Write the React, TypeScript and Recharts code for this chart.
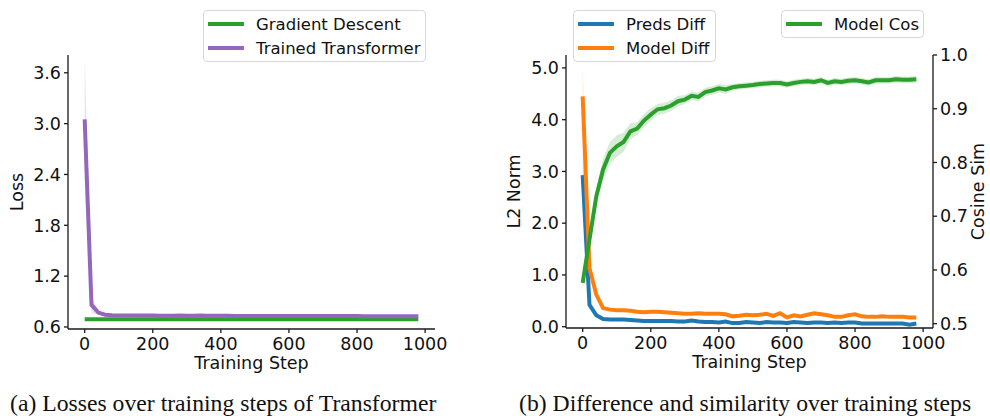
import React from 'react';
import { ComposedChart, Line, Area, XAxis, YAxis } from 'recharts';

// training steps (every 20)
const steps = [
  0, 20, 40, 60, 80, 100, 120, 140, 160, 180, 200, 220, 240, 260, 280, 300, 320, 340, 360, 380,
  400, 420, 440, 460, 480, 500, 520, 540, 560, 580, 600, 620, 640, 660, 680, 700, 720, 740, 760, 780,
  800, 820, 840, 860, 880, 900, 920, 940, 960, 980,
];

// (a) losses
const gdLoss = [
  0.69, 0.69, 0.69, 0.69, 0.69, 0.69, 0.69, 0.69, 0.69, 0.69, 0.69, 0.69, 0.69, 0.69, 0.69, 0.69, 0.69, 0.69, 0.69, 0.69,
  0.69, 0.69, 0.69, 0.69, 0.69, 0.69, 0.69, 0.69, 0.69, 0.69, 0.69, 0.69, 0.69, 0.69, 0.69, 0.69, 0.69, 0.69, 0.69, 0.69,
  0.69, 0.69, 0.69, 0.69, 0.69, 0.69, 0.69, 0.69, 0.69, 0.69,
];
const ttLoss = [
  3.05, 0.86, 0.77, 0.745, 0.738, 0.736, 0.735, 0.735, 0.734, 0.734, 0.734, 0.733, 0.733, 0.733, 0.734, 0.733, 0.733, 0.734, 0.732, 0.732,
  0.731, 0.731, 0.730, 0.730, 0.730, 0.730, 0.729, 0.730, 0.729, 0.729, 0.729, 0.729, 0.729, 0.728, 0.729, 0.728, 0.728, 0.728, 0.728, 0.728,
  0.728, 0.727, 0.727, 0.727, 0.727, 0.727, 0.727, 0.726, 0.726, 0.726,
];
const ttSpread = [
  0.75, 0.1, 0.02, 0.01, 0.01, 0.01, 0.01, 0.01, 0.01, 0.01, 0.01, 0.01, 0.01, 0.01, 0.01, 0.01, 0.01, 0.01, 0.01, 0.01,
  0.01, 0.01, 0.01, 0.01, 0.01, 0.01, 0.01, 0.01, 0.01, 0.01, 0.01, 0.01, 0.01, 0.01, 0.01, 0.01, 0.01, 0.01, 0.01, 0.01,
  0.01, 0.01, 0.01, 0.01, 0.01, 0.01, 0.01, 0.01, 0.01, 0.01,
];

// (b) differences (L2 norm) and cosine similarity
const predsDiff = [
  2.93, 0.42, 0.22, 0.15, 0.14, 0.14, 0.14, 0.13, 0.12, 0.11, 0.11, 0.11, 0.11, 0.11, 0.10, 0.10, 0.12, 0.10, 0.09, 0.09,
  0.08, 0.10, 0.07, 0.07, 0.09, 0.08, 0.07, 0.09, 0.08, 0.08, 0.07, 0.09, 0.08, 0.07, 0.08, 0.08, 0.07, 0.08, 0.07, 0.08,
  0.08, 0.06, 0.06, 0.06, 0.06, 0.06, 0.06, 0.06, 0.04, 0.06,
];
const predsSpread = [
  0.5, 0.05, 0.02, 0.01, 0.01, 0.01, 0.01, 0.01, 0.01, 0.01, 0.01, 0.01, 0.01, 0.01, 0.01, 0.01, 0.01, 0.01, 0.01, 0.01,
  0.01, 0.01, 0.01, 0.01, 0.01, 0.01, 0.01, 0.01, 0.01, 0.01, 0.01, 0.01, 0.01, 0.01, 0.01, 0.01, 0.01, 0.01, 0.01, 0.01,
  0.01, 0.01, 0.01, 0.01, 0.01, 0.01, 0.01, 0.01, 0.01, 0.01,
];
const modelDiff = [
  4.45, 1.13, 0.62, 0.36, 0.33, 0.32, 0.32, 0.31, 0.29, 0.28, 0.29, 0.29, 0.28, 0.27, 0.26, 0.25, 0.25, 0.26, 0.25, 0.25,
  0.25, 0.24, 0.20, 0.21, 0.23, 0.22, 0.23, 0.25, 0.21, 0.26, 0.18, 0.22, 0.20, 0.23, 0.26, 0.24, 0.22, 0.19, 0.19, 0.22,
  0.24, 0.20, 0.19, 0.19, 0.20, 0.19, 0.19, 0.19, 0.18, 0.18,
];
const modelSpread = [
  0.55, 0.1, 0.03, 0.02, 0.02, 0.02, 0.02, 0.02, 0.02, 0.02, 0.02, 0.02, 0.02, 0.02, 0.02, 0.02, 0.02, 0.02, 0.02, 0.02,
  0.02, 0.02, 0.02, 0.02, 0.02, 0.02, 0.02, 0.02, 0.02, 0.02, 0.02, 0.02, 0.02, 0.03, 0.04, 0.03, 0.02, 0.02, 0.02, 0.03,
  0.03, 0.02, 0.02, 0.02, 0.02, 0.02, 0.02, 0.02, 0.02, 0.02,
];
const modelCos = [
  0.576, 0.657, 0.737, 0.787, 0.818, 0.830, 0.838, 0.858, 0.863, 0.878, 0.889, 0.899, 0.901, 0.906, 0.914, 0.917, 0.924, 0.922, 0.931, 0.934,
  0.938, 0.936, 0.940, 0.942, 0.943, 0.944, 0.946, 0.947, 0.948, 0.948, 0.945, 0.948, 0.950, 0.951, 0.950, 0.953, 0.948, 0.951, 0.950, 0.952,
  0.953, 0.951, 0.949, 0.953, 0.953, 0.953, 0.955, 0.954, 0.954, 0.955,
];
const cosSpread = [
  0.012, 0.012, 0.015, 0.02, 0.02, 0.02, 0.018, 0.015, 0.012, 0.012, 0.012, 0.01, 0.01, 0.01, 0.01, 0.008, 0.008, 0.008, 0.008, 0.008,
  0.008, 0.008, 0.006, 0.006, 0.006, 0.006, 0.006, 0.006, 0.006, 0.006, 0.006, 0.006, 0.006, 0.006, 0.006, 0.006, 0.006, 0.006, 0.006, 0.006,
  0.006, 0.006, 0.006, 0.006, 0.006, 0.006, 0.006, 0.006, 0.006, 0.006,
];

const stepTicks = [0, 200, 400, 600, 800, 1000];
const lossTicks = [0.6, 1.2, 1.8, 2.4, 3.0, 3.6];
const normTicks = [0, 1, 2, 3, 4, 5];
const cosTicks = [0.5, 0.6, 0.7, 0.8, 0.9, 1.0];

const GREEN = '#2ca02c';
const PURPLE = '#9467bd';
const BLUE = '#1f77b4';
const ORANGE = '#ff7f0e';
const FONT = '"DejaVu Sans", sans-serif';
const AX = '#1a1a1a';

const lossData = steps.map((s, i) => ({
  step: s,
  gd: gdLoss[i],
  tt: ttLoss[i],
  ttBand: [ttLoss[i] - ttSpread[i], ttLoss[i] + ttSpread[i]],
}));

const diffData = steps.map((s, i) => ({
  step: s,
  preds: predsDiff[i],
  predsBand: [predsDiff[i] - predsSpread[i], predsDiff[i] + predsSpread[i]],
  model: modelDiff[i],
  modelBand: [modelDiff[i] - modelSpread[i], modelDiff[i] + modelSpread[i]],
  cos: modelCos[i],
  cosBand: [modelCos[i] - cosSpread[i], modelCos[i] + cosSpread[i]],
}));

const tick = { fontSize: 17.5, fill: '#111', fontFamily: FONT };
const axLine = { stroke: AX, strokeWidth: 1.3 };
const labelStyle = { fontSize: 17.5, fill: '#111', fontFamily: FONT, textAnchor: 'middle' as const };

function LegendBox({ left, top, width, items }: {
  left: number; top: number; width: number; items: { name: string; color: string }[];
}) {
  return (
    <div style={{
      position: 'absolute', left, top, width, height: items.length * 24 + 4,
      border: '1px solid #d8d8d8', borderRadius: 4, background: 'rgba(255,255,255,0.85)',
      boxSizing: 'border-box', fontFamily: FONT, fontSize: 16.5, color: '#111',
    }}>
      {items.map((it, i) => (
        <div key={it.name} style={{
          position: 'absolute', left: 4, top: 1 + i * 24, height: 24,
          display: 'flex', alignItems: 'center', whiteSpace: 'nowrap',
        }}>
          <span style={{ display: 'inline-block', width: 36, height: 4, background: it.color, marginRight: 12 }} />
          {it.name}
        </div>
      ))}
    </div>
  );
}

const captionStyle: React.CSSProperties = {
  position: 'absolute', top: 391.5, fontFamily: '"Liberation Serif", serif', fontSize: 23.7,
  lineHeight: 1, color: '#111', whiteSpace: 'nowrap',
};

export default function App() {
  return (
    <div style={{ position: 'absolute', left: 0, top: 0, width: 990, height: 416, background: '#fff' }}>
      <div style={{ position: 'absolute', left: 0, top: 0 }}>
        <ComposedChart width={450} height={416} data={lossData} margin={{ top: 55, right: 15, bottom: 47, left: 8 }}>
          <XAxis
            dataKey="step" type="number" domain={[-49, 1029]} ticks={stepTicks} allowDataOverflow
            tick={tick} axisLine={axLine} tickLine={axLine} tickSize={4} tickMargin={5} height={40}
            label={{ value: 'Training Step', position: 'insideBottom', offset: 0, style: labelStyle }}
          />
          <YAxis
            type="number" domain={[0.576, 3.81]} ticks={lossTicks} allowDataOverflow width={60}
            tickFormatter={(v: number) => v.toFixed(1)}
            tick={tick} axisLine={axLine} tickLine={axLine} tickSize={4} tickMargin={3}
            label={{ value: 'Loss', angle: -90, position: 'insideLeft', offset: 9, style: labelStyle }}
          />
          <Area dataKey="ttBand" stroke="none" fill={PURPLE} fillOpacity={0.2} isAnimationActive={false} />
          <Line dataKey="gd" stroke={GREEN} strokeWidth={4} dot={false} isAnimationActive={false} />
          <Line dataKey="tt" stroke={PURPLE} strokeWidth={4} dot={false} isAnimationActive={false} />
        </ComposedChart>
      </div>

      <div style={{ position: 'absolute', left: 490, top: 0 }}>
        <ComposedChart width={500} height={416} data={diffData} margin={{ top: 55, right: 7, bottom: 48, left: 16 }}>
          <XAxis
            dataKey="step" type="number" domain={[-49, 1029]} ticks={stepTicks} allowDataOverflow
            tick={tick} axisLine={axLine} tickLine={axLine} tickSize={4} tickMargin={5} height={40}
            label={{ value: 'Training Step', position: 'insideBottom', offset: 0, style: labelStyle }}
          />
          <YAxis
            yAxisId="left" type="number" domain={[-0.025, 5.25]} ticks={normTicks} allowDataOverflow width={60}
            tickFormatter={(v: number) => v.toFixed(1)}
            tick={tick} axisLine={axLine} tickLine={axLine} tickSize={4} tickMargin={3}
            label={{ value: 'L2 Norm', angle: -90, position: 'insideLeft', offset: 8, style: labelStyle }}
          />
          <YAxis
            yAxisId="right" orientation="right" type="number" domain={[0.492, 1.0]} ticks={cosTicks} allowDataOverflow width={50}
            tickFormatter={(v: number) => v.toFixed(1)}
            tick={tick} axisLine={axLine} tickLine={axLine} tickSize={4} tickMargin={3}
            label={{ value: 'Cosine Sim', angle: -90, position: 'insideRight', offset: 5, style: labelStyle }}
          />
          <Area yAxisId="left" dataKey="predsBand" stroke="none" fill={BLUE} fillOpacity={0.2} isAnimationActive={false} />
          <Area yAxisId="left" dataKey="modelBand" stroke="none" fill={ORANGE} fillOpacity={0.2} isAnimationActive={false} />
          <Line yAxisId="left" dataKey="preds" stroke={BLUE} strokeWidth={4} dot={false} isAnimationActive={false} />
          <Line yAxisId="left" dataKey="model" stroke={ORANGE} strokeWidth={4} dot={false} isAnimationActive={false} />
          <Area yAxisId="right" dataKey="cosBand" stroke="none" fill={GREEN} fillOpacity={0.2} isAnimationActive={false} />
          <Line yAxisId="right" dataKey="cos" stroke={GREEN} strokeWidth={4} dot={false} isAnimationActive={false} />
        </ComposedChart>
      </div>

      <LegendBox left={203} top={10} width={223} items={[
        { name: 'Gradient Descent', color: GREEN },
        { name: 'Trained Transformer', color: PURPLE },
      ]} />
      <LegendBox left={573} top={10} width={143} items={[
        { name: 'Preds Diff', color: BLUE },
        { name: 'Model Diff', color: ORANGE },
      ]} />
      <LegendBox left={781} top={10} width={143} items={[
        { name: 'Model Cos', color: GREEN },
      ]} />

      <div style={{ ...captionStyle, left: 10 }}>(a) Losses over training steps of Transformer</div>
      <div style={{ ...captionStyle, left: 519 }}>(b) Difference and similarity over training steps</div>
    </div>
  );
}
